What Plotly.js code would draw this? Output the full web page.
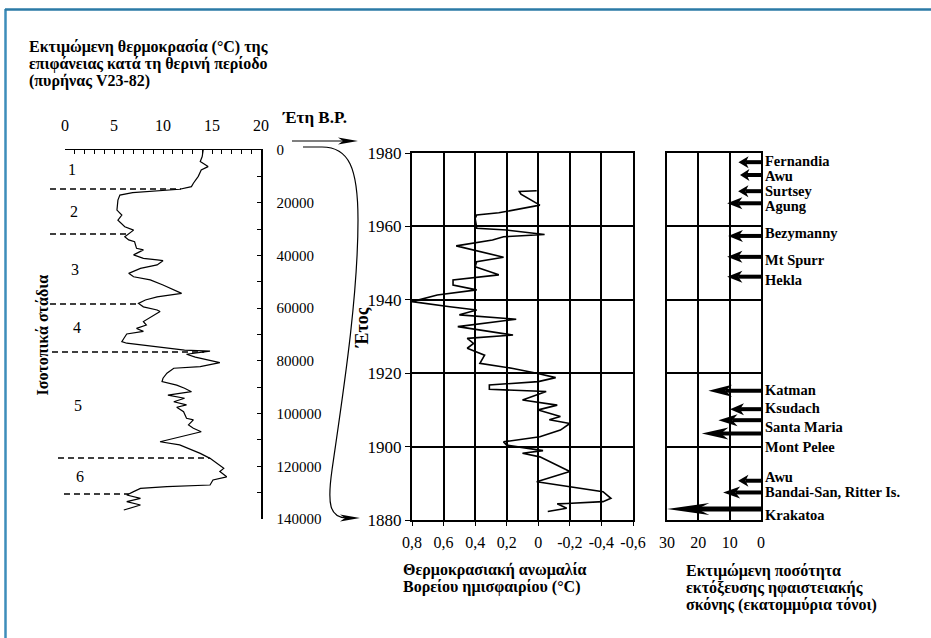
<!DOCTYPE html>
<html><head><meta charset="utf-8">
<script src="https://cdn.plot.ly/plotly-3.0.1.min.js"></script>
<style>html,body{margin:0;padding:0;background:#fff}#chart{width:931px;height:638px}</style>
</head><body><div id="chart"></div><script>
// ---- Panel 1: core V23-82 summer surface temperature vs years B.P.
const coreDepth = [0,2500,4400,6300,7600,10000,12600,13900,14900,16200,17100,19000,22800,24700,26600,29100,30400,32900,34100,34800,37300,37900,39800,41100,41700,42000,43600,44900,46800,48100,49300,51200,54400,55000,55700,56900,58200,59500,60100,60700,61300,63200,65100,66400,67700,68800,69800,71500,72700,73300,74600,75900,76300,77500,78600,80700,82200,82800,84700,86600,87900,89200,90400,91700,93000,94200,95500,96700,97600,99300,101800,102400,104300,105600,106900,110700,111900,113800,115100,117000,118900,120800,122000,124000,125200,127100,127700,128400,129600,130900,132200,133400,134700,136600];
const coreTemp  = [14.1,14.0,13.8,14.6,13.9,13.6,13.1,12.9,11.7,6.9,5.6,5.4,5.3,5.8,5.4,6.1,7.0,6.1,6.5,7.1,7.3,8.0,7.0,8.0,9.4,10.0,9.4,7.7,6.5,7.0,8.7,10.0,11.9,10.9,9.4,8.2,7.5,8.0,8.8,9.4,9.7,8.8,8.0,8.3,7.3,8.0,6.3,6.0,5.8,6.3,9.0,12.2,14.8,12.4,13.3,15.8,13.8,11.1,10.4,10.0,9.9,11.4,12.2,12.9,10.5,12.2,11.1,12.4,11.4,12.1,12.4,13.1,12.6,13.1,13.9,9.7,11.7,12.9,13.8,14.8,15.5,16.2,15.8,16.5,15.1,14.8,10.4,7.7,7.0,6.3,7.7,6.3,7.7,6.0];
const stageBoundaries = [14800,31900,58400,76600,116900,130500];
const stageNames = ['1','2','3','4','5','6'];
const tempTicks = [0,5,10,15,20];
const depthTicks = [0,20000,40000,60000,80000,100000,120000,140000];

// ---- Panel 2: Northern hemisphere temperature anomaly
const anomYear = [1969.7,1969.5,1968.8,1965.8,1963.7,1963.1,1962.2,1959.5,1959.0,1957.8,1957.2,1956.3,1954.7,1951.6,1950.4,1949.0,1946.8,1945.4,1944.0,1942.7,1941.3,1939.5,1938.1,1937.2,1935.9,1934.7,1932.7,1930.4,1929.5,1928.1,1926.8,1924.9,1922.7,1921.3,1920.0,1918.8,1917.7,1916.8,1915.6,1915.0,1912.7,1911.3,1910.0,1908.2,1907.3,1906.3,1904.5,1902.7,1901.3,1900.4,1898.9,1898.2,1897.2,1893.2,1890.4,1889.1,1887.7,1885.9,1885.0,1884.5,1884.4,1883.2,1882.3];
const anomValue = [0.01,0.12,0.11,-0.01,0.25,0.39,0.40,0.39,0.20,-0.04,0.22,0.29,0.52,0.22,0.39,0.40,0.25,0.54,0.54,0.39,0.64,0.80,0.56,0.39,0.50,0.14,0.51,0.16,0.45,0.41,0.45,0.34,0.37,0.16,0.01,-0.11,0.00,0.31,0.31,-0.05,0.10,-0.12,0.00,-0.14,-0.07,-0.20,-0.14,-0.01,0.22,0.20,-0.03,0.10,-0.01,-0.20,0.01,-0.20,-0.41,-0.46,-0.41,-0.18,-0.12,-0.18,-0.06];
const anomTicks = [0.8,0.6,0.4,0.2,0,-0.2,-0.4,-0.6];
const anomTickText = ['0,8','0,6','0,4','0,2','0','-0,2','-0,4','-0,6'];
const yearTicks = [1880,1900,1920,1940,1960,1980];

// ---- Panel 3: volcanic dust
const volcanoNames = ['Fernandia','Awu','Surtsey','Agung','Bezymanny','Mt Spurr','Hekla','Katman','Ksudach','Santa Maria','Mont Pelee','Awu','Bandai-San, Ritter Is.','Krakatoa'];
const volcanoYears = [1977.5,1974.0,1969.6,1966.3,1957.4,1951.7,1946.3,1915.2,1910.2,1907.2,1903.6,1890.7,1887.5,1883.0];
const volcanoDust  = [7.2,6.7,7.3,10.8,10.5,10.8,10.8,16.8,9.9,13.6,18.9,7.3,12.1,30];
const dustTicks = [30,20,10,0];

// ---- layout helpers (pixel -> paper)
const W = 931, H = 638;
const PX = x => x / W, PY = y => 1 - y / H;
const P = (x, y) => PX(x) + ',' + PY(y);
const serif = 'Liberation Serif';
const dom1x = [PX(65), PX(261)], dom1y = [PY(519), PY(150)];
const dom2x = [PX(412), PX(633)], dom2y = [PY(520), PY(153)];
const dom3x = [PX(667), PX(761)];

function interpTemp(d) {
  for (let i = 1; i < coreDepth.length; i++) {
    if (coreDepth[i] >= d) {
      const t = (d - coreDepth[i-1]) / (coreDepth[i] - coreDepth[i-1]);
      return coreTemp[i-1] + t * (coreTemp[i] - coreTemp[i-1]);
    }
  }
  return coreTemp[coreTemp.length-1];
}
const tempToPaper = t => dom1x[0] + (t / 20) * (dom1x[1] - dom1x[0]);

const traces = [
  {x: coreTemp, y: coreDepth, xaxis: 'x', yaxis: 'y', mode: 'lines', line: {color: '#000', width: 1.2}, hoverinfo: 'skip'},
  {x: anomValue, y: anomYear, xaxis: 'x2', yaxis: 'y2', mode: 'lines', line: {color: '#000', width: 1.6}, hoverinfo: 'skip'},
  {x: [0], y: [1880], xaxis: 'x3', yaxis: 'y3', mode: 'markers', marker: {opacity: 0}, hoverinfo: 'skip'}
];

const shapes = [];
const annotations = [];

// outer frame
shapes.push({type: 'line', xref: 'paper', yref: 'paper', x0: PX(5.5), x1: PX(5.5), y0: PY(9), y1: 0, line: {color: '#3d8dba', width: 2.5}});
shapes.push({type: 'line', xref: 'paper', yref: 'paper', x0: PX(5), x1: 1, y0: PY(9.5), y1: PY(9.5), line: {color: '#2b7aa6', width: 2.5}});

// stage boundaries (dashed)
const dashStartPx = [50, 50, 50, 52, 58, 64];
stageBoundaries.forEach((d, i) => {
  shapes.push({type: 'line', xref: 'paper', yref: 'y', x0: PX(dashStartPx[i]), x1: tempToPaper(interpTemp(d)), y0: d, y1: d,
    line: {color: '#000', width: 1.5, dash: '6px,4px'}});
});
// stage labels at midpoints
stageNames.forEach((s, i) => {
  const top = i === 0 ? 0 : stageBoundaries[i-1];
  const mid = (top + stageBoundaries[i]) / 2;
  annotations.push({xref: 'paper', yref: 'y', x: PX(66 + i * 1.6), y: mid, text: s, showarrow: false,
    font: {family: serif, size: 16, color: '#000'}});
});

// volcanic arrows (derived from data)
const yPerPx = 100 / 367;
volcanoNames.forEach((n, i) => {
  const v = volcanoDust[i], yr = volcanoYears[i];
  const head = 0.45 * v;
  const xb = v - head, xn = v - head * 0.72;
  const h = 6 * yPerPx;
  shapes.push({type: 'line', xref: 'x3', yref: 'y3', x0: 0, x1: xn, y0: yr, y1: yr, line: {color: '#000', width: v >= 30 ? 5 : 4}});
  shapes.push({type: 'path', xref: 'x3', yref: 'y3', path: `M ${v},${yr} L ${xb},${yr + h} L ${xn},${yr} L ${xb},${yr - h} Z`,
    fillcolor: '#000', line: {width: 0}});
});
const labelShift = [-1, 1, 0, 3, -3, 3, 3, -1, -1, 7, 14, -4, 0, 6];
volcanoNames.forEach((n, i) => {
  annotations.push({xref: 'x3', yref: 'y3', x: 0, y: volcanoYears[i], xanchor: 'left', xshift: 2, yshift: -labelShift[i],
    text: '<b>' + n + '</b>', showarrow: false, font: {family: serif, size: 14.5, color: '#000'}});
});

// connecting arrows between panels
shapes.push({type: 'line', xref: 'paper', yref: 'paper', x0: PX(292), x1: PX(345), y0: PY(141), y1: PY(141), line: {color: '#000', width: 1.2}});
shapes.push({type: 'path', xref: 'paper', yref: 'paper', path: `M ${P(358,141)} L ${P(338,137.5)} L ${P(343,141)} L ${P(338,144.5)} Z`, fillcolor: '#000', line: {width: 0}});
shapes.push({type: 'path', xref: 'paper', yref: 'paper',
  path: `M ${P(303,147)} L ${P(322,147)} C ${P(349,147)} ${P(358,168)} ${P(358,220)} C ${P(358,300)} ${P(342,400)} ${P(332,470)} C ${P(327,505)} ${P(330,517)} ${P(346,518)}`,
  line: {color: '#000', width: 1.2}});
shapes.push({type: 'path', xref: 'paper', yref: 'paper', path: `M ${P(360,518)} L ${P(340,514.5)} L ${P(345,518)} L ${P(340,521.5)} Z`, fillcolor: '#000', line: {width: 0}});

// texts
const bold = (t) => '<b>' + t + '</b>';
const titleLines = ['Εκτιμώμενη θερμοκρασία (°C) της', 'επιφάνειας κατά τη θερινή περίοδο', '(πυρήνας V23-82)'];
titleLines.forEach((t, i) => annotations.push({xref: 'paper', yref: 'paper', x: PX(27), y: PY(47 + i * 17), xanchor: 'left', yanchor: 'middle',
  text: bold(t), showarrow: false, font: {family: serif, size: 16, color: '#000'}}));
annotations.push({xref: 'paper', yref: 'paper', x: PX(280), y: PY(118), xanchor: 'left', yanchor: 'middle', text: bold('Έτη B.P.'), showarrow: false, font: {family: serif, size: 17, color: '#000'}});
annotations.push({xref: 'paper', yref: 'paper', x: PX(31), y: PY(335), textangle: -90, text: bold('Ισοτοπικά στάδια'), showarrow: false, font: {family: serif, size: 16, color: '#000'}});
annotations.push({xref: 'paper', yref: 'paper', x: PX(362), y: PY(328), textangle: -90, text: bold('Έτος'), showarrow: false, font: {family: serif, size: 18, color: '#000'}});
['Θερμοκρασιακή ανωμαλία', 'Βορείου ημισφαιρίου (°C)'].forEach((t, i) => annotations.push({xref: 'paper', yref: 'paper', x: PX(401), y: PY(570 + i * 17), xanchor: 'left', yanchor: 'middle',
  text: bold(t), showarrow: false, font: {family: serif, size: 16, color: '#000'}}));
['Εκτιμώμενη ποσότητα', 'εκτόξευσης ηφαιστειακής', 'σκόνης (εκατομμύρια τόνοι)'].forEach((t, i) => annotations.push({xref: 'paper', yref: 'paper', x: PX(684), y: PY(571 + i * 17), xanchor: 'left', yanchor: 'middle',
  text: bold(t), showarrow: false, font: {family: serif, size: 16, color: '#000'}}));

const tickFont = {family: serif, size: 15, color: '#000'};
const layout = {
  width: W, height: H, margin: {l: 0, r: 0, t: 0, b: 0, pad: 0},
  paper_bgcolor: '#fff', plot_bgcolor: 'rgba(0,0,0,0)', showlegend: false,
  font: {family: serif, color: '#000'},
  xaxis: {domain: dom1x, anchor: 'y', side: 'top', range: [0, 20], tickvals: tempTicks, ticks: 'inside', ticklen: 4, tickwidth: 1, tickcolor: '#000',
    minor: {dtick: 1, tick0: 0, ticks: 'inside', ticklen: 4, tickcolor: '#000', showgrid: false},
    showline: true, linecolor: '#000', linewidth: 1.5, showgrid: false, zeroline: false, tickfont: {family: serif, size: 16, color: '#000'}, ticklabelstandoff: 11, fixedrange: true},
  yaxis: {domain: dom1y, anchor: 'x', side: 'right', range: [140000, 0], tickvals: depthTicks, tickformat: 'd', ticks: 'inside', ticklen: 4, tickwidth: 1, tickcolor: '#000',
    minor: {dtick: 10000, tick0: 0, ticks: 'inside', ticklen: 4, tickcolor: '#000', showgrid: false},
    showline: true, linecolor: '#000', linewidth: 1.5, showgrid: false, zeroline: false, tickfont: tickFont, ticklabelstandoff: 11, fixedrange: true},
  xaxis2: {domain: dom2x, anchor: 'y2', range: [0.8, -0.6], tickvals: anomTicks, ticktext: anomTickText, ticks: 'outside', ticklen: 4, tickcolor: '#000',
    showline: true, mirror: true, linecolor: '#000', linewidth: 2, showgrid: true, gridcolor: '#000', gridwidth: 2, zeroline: false, tickfont: {family: serif, size: 16, color: '#000'}, ticklabelstandoff: 3, fixedrange: true},
  yaxis2: {domain: dom2y, anchor: 'x2', range: [1880, 1980], tickvals: yearTicks, ticks: 'outside', ticklen: 5, tickcolor: '#000',
    showline: true, mirror: true, linecolor: '#000', linewidth: 2, showgrid: true, gridcolor: '#000', gridwidth: 2, zeroline: false, tickfont: {family: serif, size: 17, color: '#000'}, fixedrange: true},
  xaxis3: {domain: dom3x, anchor: 'y3', range: [30, 0], tickvals: dustTicks, ticks: '',
    showline: true, mirror: true, linecolor: '#000', linewidth: 2, showgrid: true, gridcolor: '#000', gridwidth: 2, zeroline: false, tickfont: {family: serif, size: 16, color: '#000'}, ticklabelstandoff: 7, fixedrange: true},
  yaxis3: {domain: dom2y, anchor: 'x3', range: [1880, 1980], tickvals: yearTicks, ticks: '', showticklabels: false,
    showline: true, mirror: true, linecolor: '#000', linewidth: 2, showgrid: true, gridcolor: '#000', gridwidth: 2, zeroline: false, fixedrange: true},
  shapes: shapes, annotations: annotations
};
Plotly.newPlot('chart', traces, layout, {displayModeBar: false, staticPlot: true});
</script></body></html>
